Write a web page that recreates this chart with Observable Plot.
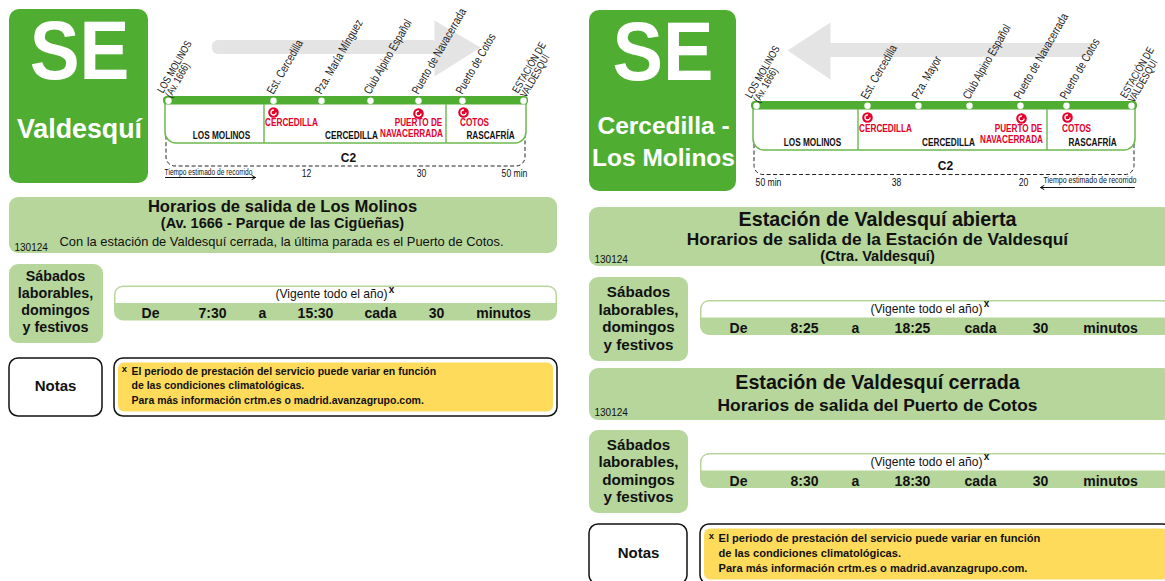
<!DOCTYPE html>
<html><head><meta charset="utf-8">
<style>html,body{margin:0;padding:0;background:#fff}svg{display:block}</style>
<script src="https://cdn.jsdelivr.net/npm/d3@7"></script>
<script src="https://cdn.jsdelivr.net/npm/@observablehq/plot@0.6"></script>
</head><body><div id="c"></div>
<script>
// ---- content
const stopsOut = ["LOS MOLINOS\n(Av. 1666)","Est. Cercedilla","Pza. María Mínguez","Club Alpino Español","Puerto de Navacerrada","Puerto de Cotos","ESTACIÓN DE\nVALDESQUÍ"];
const stopsBack = ["LOS MOLINOS\n(Av. 1666)","Est. Cercedilla","Pza. Mayor","Club Alpino Español","Puerto de Navacerrada","Puerto de Cotos","ESTACIÓN DE\nVALDESQUÍ"];
const zones = ["LOS MOLINOS","CERCEDILLA","RASCAFRÍA"];
const transfers = ["CERCEDILLA","PUERTO DE","NAVACERRADA","COTOS"];
const minutesOut = ["12","30","50 min"];
const minutesBack = ["50 min","38","20"];
const dayLabel = "Sábados\nlaborables,\ndomingos\ny festivos";
const validity = "(Vigente todo el año)";
const rowLeft = ["De","7:30","a","15:30","cada","30","minutos"];
const rowOpen = ["De","8:25","a","18:25","cada","30","minutos"];
const rowClosed = ["De","8:30","a","18:30","cada","30","minutos"];
const noteLines = ["El periodo de prestación del servicio puede variar en función","de las condiciones climatológicas.","Para más información crtm.es o madrid.avanzagrupo.com."];
const code = "130124";
// ---- layout
const stopXL = [168,273,321,370,418,462,523];
const stopXR = [756,867,918,969,1020,1066,1131];
const rowXL = [150,212,262,315,380,436,503];
const rowXR = [738,804,855,912,980,1040,1110];
const C = {green:"#4fae32",light:"#b6d69b",frame:"#6cb84d",grey:"#e4e4e4",red:"#e4002b",yellow:"#ffdb5c"};
const F = "Liberation Sans", N = "Liberation Sans Narrow, Liberation Sans", W = "Liberation Sans Wide, Liberation Sans";

const R = (x1,y1,x2,y2,o={}) => Plot.rect([{x1,y1,x2,y2}],{x1:"x1",y1:"y1",x2:"x2",y2:"y2",...o});
const T = (s,x,y,o={}) => Plot.text([s],{x:()=>x,y:()=>y,text:d=>d,fontFamily:F,fill:"#111",lineAnchor:"middle",...o});
const Tr = (labels,xs,y,o) => labels.map((s,i)=>T(s,xs[i],y,o));
const poly = (xs,ys,fill) => Plot.line(xs.map((x,i)=>({x,y:ys[i]})),{x:"x",y:"y",fill,stroke:"none"});
const nameStyle = {rotate:-60,textAnchor:"start",fontFamily:N,fontSize:12,fill:"#222"};
const stopName = (s,x,y) => s.includes("\n")
  ? T(s,x-4,y+1,{...nameStyle,fontSize:10.8,lineHeight:.85})
  : T(s,x-3,y,{...nameStyle,lineHeight:.8});

function route(o){
  const icon = (x,y)=>[Plot.dot([0],{x:()=>x,y:()=>y,r:5.3,fill:C.red}),
                       Plot.dot([0],{x:()=>x,y:()=>y,r:2.5,stroke:"#fff",strokeWidth:1.3,fill:"none",strokeDasharray:"12 4"})];
  return [
    R(o.x1+1,o.top+20,o.x2-1,o.dash,{stroke:"#222",strokeDasharray:"4 2.5",strokeWidth:1,fill:"none",rx:9}),
    R(o.x1,o.top-16,o.x2,o.bottom,{fill:"#fff",stroke:C.frame,strokeWidth:1.5,rx:11}),
    R(o.x1-3,o.top-20,o.x2+3,o.top+2,{fill:"#fff"}),
    R(o.x1-2,o.top,o.x2+2,o.top+8.5,{fill:C.green,rx:4}),
    o.div.map(x=>R(x-.7,o.top+8,x+.7,o.bottom,{fill:C.frame})),
    Plot.dot(o.stops,{x:d=>d,y:()=>o.top+4.3,r:3.2,fill:"#fff"}),
    zones.map((z,i)=>T(z,o.zx[i],o.zy,{fontFamily:N,fontWeight:"bold",fontSize:10.5})),
    transfers.map((z,i)=>T(z,o.tx[i],i==2?o.ty+11:o.ty,{fontFamily:N,fontWeight:"bold",fontSize:10.5,fill:C.red})),
    o.ix.map((x,i)=>icon(x,i==1?o.iy+1:o.iy)),
    T("C2",o.c2,o.c2y,{fontWeight:"bold",fontSize:12}),
    o.minutes.map((s,i)=>T(s,o.mx[i],o.my,{fontFamily:N,fontSize:11})),
    T("Tiempo estimado de recorrido",o.tm,o.tmy,{fontFamily:N,fontSize:o.tmf}),
    Plot.arrow([0],{x1:()=>o.a1,x2:()=>o.a2,y1:()=>o.ay,y2:()=>o.ay,stroke:"#111",strokeWidth:1,headLength:6,bend:0})
  ];
}
function schedule(x1,x2,y,row,xs,vx,dayx,box,dayf,dayLh,dayShift){
  return [
    R(box[0],box[1],box[2],box[3],{fill:C.light,rx:9}),
    T(dayLabel,dayx,(box[1]+box[3])/2+dayShift,{fontWeight:"bold",fontSize:dayf,lineHeight:dayLh}),
    R(x1,y,x2,y+35,{fill:C.light,rx:9}),
    R(x1+1,y+1,x2-1,y+26,{fill:"#fff",rx:8,stroke:C.light,strokeWidth:1}),
    R(x1,y+17.5,x2,y+26,{fill:C.light}),
    T(validity,vx,y+8.5,{fontSize:12.1}),
    T("x",vx+60,y+3.5,{fontSize:10,fontWeight:"bold"}),
    Tr(row,xs,y+28,{fontSize:14,fontWeight:"bold"})
  ];
}
function notes(bx1,bx2,x1,x2,y1,y2,textX,lineYs,nx,fs){
  return [
    R(bx1,y1,bx2,y2,{fill:"#fff",stroke:"#111",strokeWidth:1.5,rx:9}),
    T("Notas",nx,(y1+y2)/2-1.5,{fontWeight:"bold",fontSize:15}),
    R(x1,y1,x2,y2,{fill:"#fff",stroke:"#111",strokeWidth:1.5,rx:9}),
    R(x1+4,y1+4.5,x2-4,y2-4.5,{fill:C.yellow,rx:6}),
    T("x",textX-7,lineYs[0]-3,{fontSize:9.5,fontWeight:"bold"}),
    noteLines.map((s,i)=>T(s,textX,lineYs[i],{textAnchor:"start",fontSize:fs,fontWeight:"bold"}))
  ];
}

const marks = [
  R(9,9,148,183,{fill:C.green,rx:10}),
  T("SE",79,52,{fill:"#fff",fontWeight:"bold",fontSize:83,fontFamily:W}),
  T("Valdesquí",79,129,{fill:"#fff",fontWeight:"bold",fontSize:26.8}),
  R(589,10,736,191,{fill:C.green,rx:10}),
  T("SE",662.5,53,{fill:"#fff",fontWeight:"bold",fontSize:84,fontFamily:W}),
  T("Cercedilla -",663,126,{fill:"#fff",fontWeight:"bold",fontSize:24.5}),
  T("Los Molinos",663,158,{fill:"#fff",fontWeight:"bold",fontSize:24.5}),
  route({x1:165,x2:526,top:96,bottom:143,dash:166,stops:stopXL,div:[264,446],
    zx:[221,351,490],zy:135,tx:[291,418,411,474],ty:122,ix:[273,418,463],iy:112,c2:348,c2y:158,
    minutes:minutesOut,mx:[306,421,514],my:173,tm:208,tmy:171.5,tmf:8.5,a1:165,a2:255,ay:177}),
  route({x1:753,x2:1135,top:101,bottom:150,dash:174.5,stops:stopXR,div:[858,1047],
    zx:[812,948,1092],zy:142,tx:[885,1018,1011,1076],ty:128,ix:[867,1021,1067],iy:117,c2:945,c2y:166,
    minutes:minutesBack,mx:[768,896,1023],my:182,tm:1089.5,tmy:180,tmf:9,a1:1134,a2:1040,ay:187}),
  R(212,40,438,54,{fill:C.grey,rx:6}),
  poly([434,480,434],[20,47,76],C.grey),
  R(828,43,1092,57,{fill:C.grey}),
  poly([830,787,830],[22,50,79],C.grey),
  stopsOut.map((s,i)=>stopName(s,stopXL[i],93)),
  stopsBack.map((s,i)=>stopName(s,stopXR[i],98)),
  R(9,197,557,253,{fill:C.light,rx:9}),
  T("Horarios de salida de Los Molinos",282,206,{fontWeight:"bold",fontSize:16.6}),
  T("(Av. 1666 - Parque de las Cigüeñas)",282,223,{fontWeight:"bold",fontSize:14.5}),
  T("Con la estación de Valdesquí cerrada, la última parada es el Puerto de Cotos.",281,241,{fontSize:12.9}),
  T(code,14,247,{textAnchor:"start",fontSize:10}),
  schedule(114,557,285.5,rowLeft,rowXL,331,55,[9,264,103,343],14.3,1.2,-3),
  notes(9,102,114,557,358,416,131,[371,385.5,400],55,10.5),
  R(589,207,1172,266,{fill:C.light,rx:9}),
  T("Estación de Valdesquí abierta",877,219,{fontWeight:"bold",fontSize:19.7}),
  T("Horarios de salida de la Estación de Valdesquí",877,239,{fontWeight:"bold",fontSize:17.3}),
  T("(Ctra. Valdesquí)",877,256,{fontWeight:"bold",fontSize:14.5}),
  T(code,594,259,{textAnchor:"start",fontSize:10}),
  schedule(700,1172,300,rowOpen,rowXR,926,638,[589,277,688,361],15.2,1.15,-1.5),
  R(589,368,1172,420,{fill:C.light,rx:9}),
  T("Estación de Valdesquí cerrada",877,382,{fontWeight:"bold",fontSize:19.7}),
  T("Horarios de salida del Puerto de Cotos",877,405,{fontWeight:"bold",fontSize:17.4}),
  T(code,594,412,{textAnchor:"start",fontSize:10}),
  schedule(700,1172,453,rowClosed,rowXR,926,638,[589,430,688,513],15.2,1.15,-1.5),
  notes(589,687,700,1172,524,584,718,[538,552.5,567.5],638,11.1)
];

const chart = Plot.plot({
  width:1165,height:581,margin:0,
  x:{domain:[0,1165],range:[0,1165],axis:null},
  y:{domain:[0,581],range:[0,581],axis:null},
  style:{background:"#fff",fontFamily:F},
  marks
});
document.getElementById("c").append(chart);
// condense the labels set in the narrow face, which the installed fonts lack
function squeeze(sel,k){
  chart.querySelectorAll(sel).forEach(t=>{
    const parts = t.querySelectorAll("tspan").length ? t.querySelectorAll("tspan") : [t];
    parts.forEach(p=>{
      const len = p.getComputedTextLength();
      p.setAttribute("textLength",(len*k).toFixed(1));
      p.setAttribute("lengthAdjust","spacingAndGlyphs");
    });
  });
}
squeeze('g[font-family^="Liberation Sans Narrow"] text',0.78);
squeeze('g[font-family^="Liberation Sans Wide"] text',0.9);
</script></body></html>
